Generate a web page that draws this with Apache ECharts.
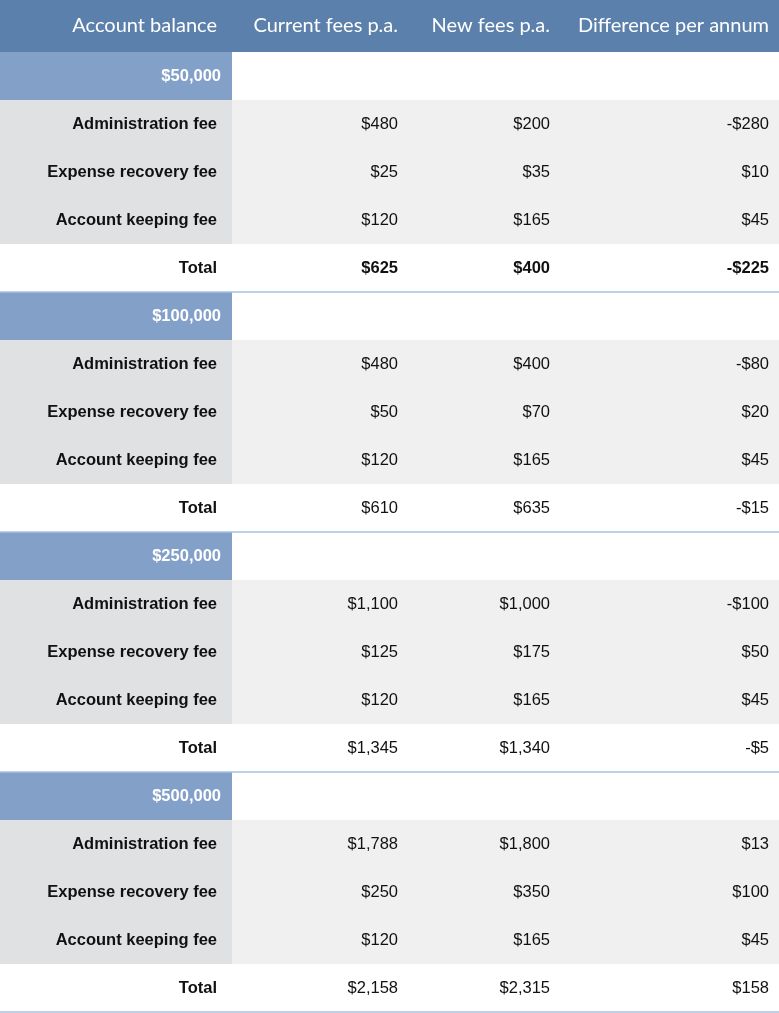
<!DOCTYPE html>
<html><head><meta charset="utf-8">
<script src="https://cdn.jsdelivr.net/npm/echarts@6/dist/echarts.min.js"></script>
<style>html,body{margin:0;padding:0;background:#fff}#c{width:779px;height:1013px}</style>
</head><body><div id="c"></div>
<script>
// ---- data ----
const headers = ['Account balance', 'Current fees p.a.', 'New fees p.a.', 'Difference per annum'];
const balances = ['$50,000', '$100,000', '$250,000', '$500,000'];
const feeTypes = ['Administration fee', 'Expense recovery fee', 'Account keeping fee'];
const currentFees = [[480, 25, 120], [480, 50, 120], [1100, 125, 120], [1788, 250, 120]];
const newFees = [[200, 35, 165], [400, 70, 165], [1000, 175, 165], [1800, 350, 165]];
const differences = [[-280, 10, 45], [-80, 20, 45], [-100, 50, 45], [13, 100, 45]];
const totalCurrent = [625, 610, 1345, 2158];
const totalNew = [400, 635, 1340, 2315];
const totalDiff = [-225, -15, -5, 158];
const totalLabel = 'Total';
const boldTotalGroup = [true, false, false, false];

// ---- layout/style ----
const W = 779, HEADER_H = 52;
const colEdges = [0, 232, 413, 565, 779];
const textRight = [217, 398, 550, 769];
const groupTextRight = 221;
const C = { header: '#5b80ab', group: '#83a0c9', labelCell: '#e0e1e3', valueCell: '#f0f0f0', line: '#a9c0e0', text: '#111' };
const BODY_FONT = '16.5px "Liberation Sans", Arial, sans-serif';

function money(v) { return (v < 0 ? '-$' : '$') + Math.abs(v).toLocaleString('en-US'); }

// build rows
const rows = [];
balances.forEach((b, g) => {
  rows.push({ kind: 'group', cells: [b, '', '', ''] });
  feeTypes.forEach((f, i) => {
    rows.push({ kind: 'fee', cells: [f, money(currentFees[g][i]), money(newFees[g][i]), money(differences[g][i])] });
  });
  rows.push({ kind: 'total', bold: boldTotalGroup[g], cells: [totalLabel, money(totalCurrent[g]), money(totalNew[g]), money(totalDiff[g])] });
});
const rowIdx = rows.map((r, i) => i);
const cellData = [];
rows.forEach((r, ri) => r.cells.forEach((t, ci) => cellData.push([ci, ri, t, r.kind, r.bold ? 1 : 0])));

const chart = echarts.init(document.getElementById('c'), null, { renderer: 'canvas' });
chart.setOption({
  animation: false,
  grid: { left: 0, right: 0, top: HEADER_H, bottom: 1 },
  xAxis: { type: 'value', min: 0, max: W, show: false },
  yAxis: { type: 'category', data: rowIdx, inverse: true, show: false },
  graphic: [
    { type: 'rect', left: 0, top: 0, shape: { x: 0, y: 0, width: W, height: HEADER_H }, style: { fill: C.header }, z: 1 }
  ].concat(headers.map((h, i) => ({
    type: 'text', z: 2,
    style: { x: textRight[i], y: HEADER_H / 2, text: h, align: 'right', verticalAlign: 'middle',
      fill: '#fff', font: '20px Lato' }
  }))),
  series: [{
    type: 'custom',
    data: cellData,
    encode: { x: 0, y: 1 },
    renderItem: function (params, api) {
      const ci = api.value(0), ri = api.value(1);
      const d = cellData[params.dataIndex];
      const kind = d[3];
      const yc = api.coord([0, ri])[1];
      const h = api.size([0, 1])[1];
      const x0 = api.coord([colEdges[ci], ri])[0];
      const x1 = api.coord([colEdges[ci + 1], ri])[0];
      const xr = api.coord([(kind === 'group' && ci === 0) ? groupTextRight : textRight[ci], ri])[0];
      let fill = '#fff';
      if (kind === 'group') fill = ci === 0 ? C.group : '#fff';
      else if (kind === 'fee') fill = ci === 0 ? C.labelCell : C.valueCell;
      const bold = ci === 0 || (kind === 'total' && d[4]);
      const children = [
        { type: 'rect', shape: { x: x0, y: yc - h / 2, width: x1 - x0, height: h }, style: { fill: fill } },
        { type: 'text', style: { x: xr, y: yc + 0.5, text: d[2], align: 'right', verticalAlign: 'middle',
          fill: kind === 'group' ? '#fff' : C.text,
          font: (bold ? 'bold ' : '') + BODY_FONT } }
      ];
      if (kind === 'total') {
        children.push({ type: 'line', z2: 5, shape: { x1: x0, y1: yc + h / 2, x2: x1, y2: yc + h / 2 },
          style: { stroke: C.line, lineWidth: 1.5 } });
      }
      return { type: 'group', children: children };
    }
  }]
});
</script></body></html>
